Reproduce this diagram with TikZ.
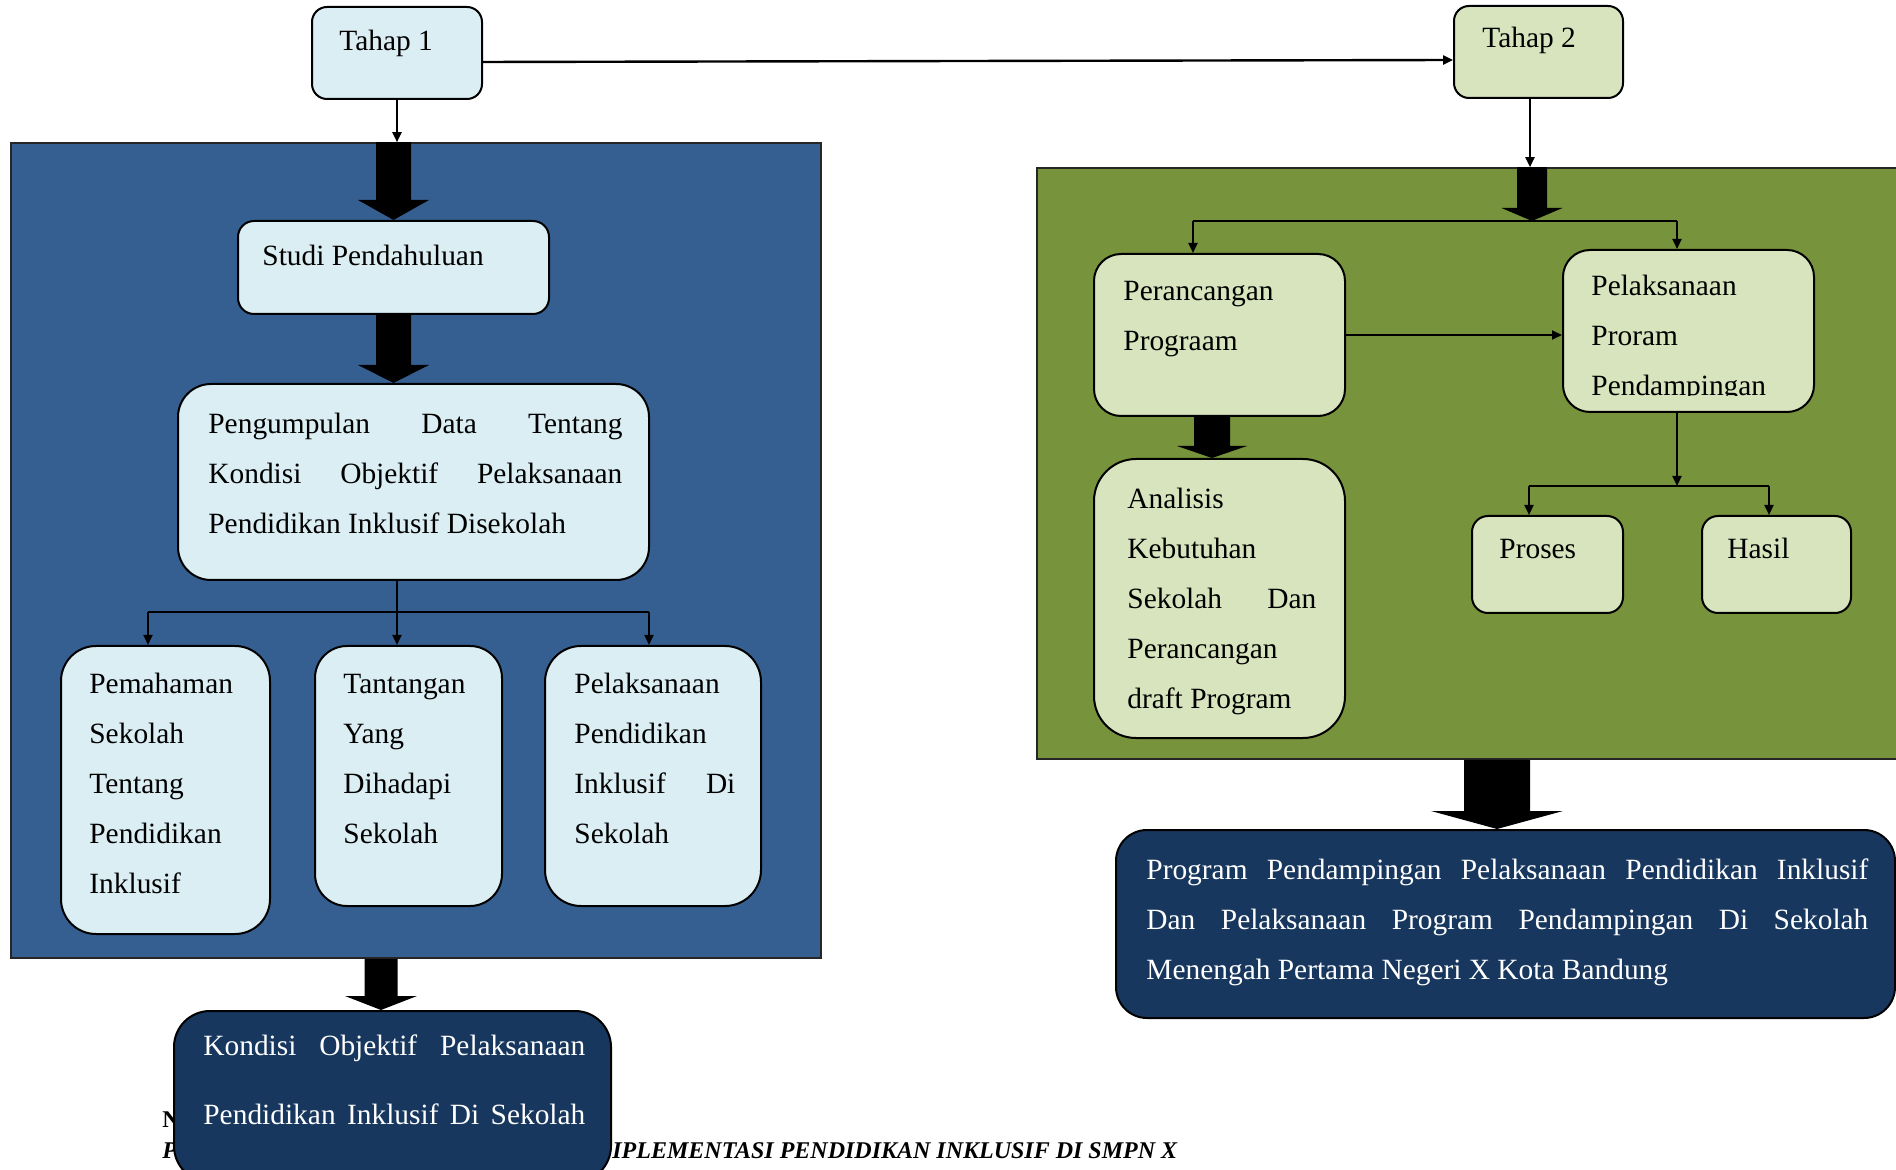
\documentclass[tikz,border=0pt]{standalone}
\usepackage{fontspec}
\setmainfont{Liberation Serif}
\usetikzlibrary{fit,calc,arrows.meta}
\definecolor{lblue}{HTML}{DBEEF3}
\definecolor{lgreen}{HTML}{D7E4BD}
\definecolor{pblue}{HTML}{365F91}
\definecolor{pgreen}{HTML}{77933C}
\definecolor{navy}{HTML}{17375E}
\newcommand{\justline}[2]{{\spaceskip=0pt\xspaceskip=0pt\makebox[#1][s]{#2}}}
\tikzset{
  panel/.style={draw=black!85, line width=0.8pt, inner sep=0pt},
  lbox/.style={draw=black, line width=1pt, fill=lblue, inner sep=0pt},
  gbox/.style={draw=black, line width=1pt, fill=lgreen, inner sep=0pt},
  dbox/.style={draw=black, line width=1pt, fill=navy, inner sep=0pt},
  txt/.style={anchor=base west, inner sep=0pt, align=justify, text width=150pt,
    yshift=-1.25pt, font=\fontsize{14.7}{25}\selectfont,
    execute at begin node={\spaceskip=0pt\xspaceskip=0pt}},
  dtxt/.style={txt, text=white},
  foot/.style={anchor=base west, inner sep=0pt, font=\fontsize{12}{14}\selectfont\bfseries},
  conn/.style={draw=black, line width=1pt, -{Triangle[length=5pt,width=4.5pt]}},
  wire/.style={draw=black, line width=1pt},
  blockarrow/.style n args={3}{fill=black, to path={
    ($(\tikztostart)+(-#1,0pt)$) -- ($(\tikztostart)+(#1,0pt)$) --
    ($(\tikztotarget)+(#1,#3)$) -- ($(\tikztotarget)+(#2,#3)$) --
    (\tikztotarget) -- ($(\tikztotarget)+(-#2,#3)$) --
    ($(\tikztotarget)+(-#1,#3)$) -- cycle}}
}
\begin{document}
\begin{tikzpicture}[x=0.5pt,y=-0.5pt]
\useasboundingbox (0,0) rectangle (1896,1170);

% panels
\node[panel, fill=pblue, fit={(11,143)(821,958)}] (panel1) {};
\node[panel, fill=pgreen, fit={(1037,168)(1905,759)}] (panel2) {};

% footer text (partly hidden)
\node[foot] (foot-n) at (162,1127) {N};
\node[foot, font=\fontsize{12}{14}\selectfont\bfseries\itshape] (foot-p) at (162,1158) {P};
\node[foot, font=\fontsize{12}{14}\selectfont\bfseries\itshape] (foot-t) at (612,1158) {IPLEMENTASI PENDIDIKAN INKLUSIF DI SMPN X};

% boxes left
\node[lbox, rounded corners=7.5pt, fit={(312,7)(482,99)}] (tahap1) {};
\node[lbox, rounded corners=8pt, fit={(238,221)(549,314)}] (studi) {};
\node[lbox, rounded corners=16.5pt, fit={(178,384)(649,580)}] (kumpul) {};
\node[lbox, rounded corners=17.5pt, fit={(61,646)(270,934)}] (paham) {};
\node[lbox, rounded corners=16pt, fit={(315,646)(502,906)}] (tantang) {};
\node[lbox, rounded corners=18pt, fit={(545,646)(761,906)}] (laksana1) {};
\node[dbox, rounded corners=18pt, fit={(174,1011)(611,1182)}] (kondisi) {};

% boxes right
\node[gbox, rounded corners=7.5pt, fit={(1454,6)(1623,98)}] (tahap2) {};
\node[gbox, rounded corners=13.5pt, fit={(1094,254)(1345,416)}] (rancang) {};
\node[gbox, rounded corners=13.5pt, fit={(1563,250)(1814,412)}] (laksana2) {};
\node[gbox, rounded corners=21pt, fit={(1094,459)(1345,738)}] (analisis) {};
\node[gbox, rounded corners=8pt, fit={(1472,516)(1623,613)}] (proses) {};
\node[gbox, rounded corners=8pt, fit={(1702,516)(1851,613)}] (hasil) {};
\node[dbox, rounded corners=15.5pt, fit={(1116,830)(1895,1018)}] (program) {};

% thin connectors
\draw[conn, line width=1.2pt] ($(tahap1.east)+(0,9)$) -- ($(tahap2.west)+(0,8)$);
\draw[conn] (tahap1.south) -- (tahap1.south |- panel1.north);
\coordinate (t2d) at (1530,0);
\draw[conn] (t2d |- tahap2.south) -- (t2d |- panel2.north);

\coordinate (j1) at (397,612);
\coordinate (b1) at (148,612);
\coordinate (b3) at (649,612);
\draw[wire] (j1 |- kumpul.south) -- (j1);
\draw[wire] (b1) -- (b3);
\draw[conn] (b1) -- (b1 |- paham.north);
\draw[conn] (j1) -- (j1 |- tantang.north);
\draw[conn] (b3) -- (b3 |- laksana1.north);

\coordinate (g1) at (1193,221);
\coordinate (g2) at (1677,221);
\draw[wire] (g1) -- (g2);
\draw[conn] (g1) -- (g1 |- rancang.north);
\draw[conn] (g2) -- (g2 |- laksana2.north);
\draw[conn] (rancang.east) -- (rancang.east -| laksana2.west);

\coordinate (g3) at (1677,486);
\coordinate (p1) at (1529,486);
\coordinate (p2) at (1769,486);
\draw[conn] (g3 |- laksana2.south) -- (g3);
\draw[wire] (p1) -- (p2);
\draw[conn] (p1) -- (p1 |- proses.north);
\draw[conn] (p2) -- (p2 |- hasil.north);

% block arrows
\coordinate (a1e) at (studi.north);
\coordinate (a1s) at (studi.north |- panel1.north);
\fill[blockarrow={8.75pt}{17.75pt}{10pt}] (a1s) to (a1e);
\coordinate (a2s) at (studi.south);
\coordinate (a2e) at (studi.south |- kumpul.north);
\fill[blockarrow={8.75pt}{17.75pt}{9pt}] (a2s) to (a2e);
\coordinate (a3) at (381,0);
\coordinate (a3s) at (a3 |- panel1.south);
\coordinate (a3e) at (a3 |- kondisi.north);
\fill[blockarrow={8.25pt}{18pt}{7pt}] (a3s) to (a3e);
\coordinate (a4) at (1532,0);
\coordinate (a4s) at (a4 |- panel2.north);
\coordinate (a4e) at (a4 |- g1);
\fill[blockarrow={7.5pt}{15.25pt}{6.5pt}] (a4s) to (a4e);
\coordinate (a5) at (1212,0);
\coordinate (a5s) at (a5 |- rancang.south);
\coordinate (a5e) at (a5 |- analisis.north);
\fill[blockarrow={9pt}{17.5pt}{6pt}] (a5s) to (a5e);
\coordinate (a6) at (1497,0);
\coordinate (a6s) at (a6 |- panel2.south);
\coordinate (a6e) at (a6 |- program.north);
\fill[blockarrow={16.5pt}{33pt}{9pt}] (a6s) to (a6e);

% texts left
\node[txt] (tahap1-t) at (339,48) {Tahap 1};
\node[txt] (studi-t) at (262,263) {Studi Pendahuluan};
\node[txt, text width=207pt] (kumpul-t) at (208,431)
  {\justline{207pt}{Pengumpulan Data Tentang}\\
   \justline{207pt}{Kondisi Objektif Pelaksanaan}\\
   Pendidikan Inklusif Disekolah};
\node[txt] (paham-t) at (89,691) {Pemahaman\\Sekolah\\Tentang\\Pendidikan\\Inklusif};
\node[txt] (tantang-t) at (343,691) {Tantangan\\Yang\\Dihadapi\\Sekolah};
\node[txt, text width=80.5pt] (laksana1-t) at (574,691)
  {Pelaksanaan\\Pendidikan\\\justline{80.5pt}{Inklusif Di}\\Sekolah};
\node[dtxt, text width=191pt, font=\fontsize{14.7}{34.5}\selectfont] (kondisi-t) at (203,1053)
  {\justline{191pt}{Kondisi Objektif Pelaksanaan}\\
   \justline{191pt}{Pendidikan Inklusif Di Sekolah}};

% texts right
\node[txt] (tahap2-t) at (1482,45) {Tahap 2};
\node[txt] (rancang-t) at (1123,298) {Perancangan\\Prograam};
\begin{scope}
  \clip (1563,250) rectangle (1814,396);
  \node[txt] (laksana2-t) at (1591,293) {Pelaksanaan\\Proram\\Pendampingan};
\end{scope}
\node[txt, text width=94.5pt] (analisis-t) at (1127,506)
  {Analisis\\Kebutuhan\\\justline{94.5pt}{Sekolah Dan}\\Perancangan\\draft Program};
\node[txt] (proses-t) at (1499,556) {Proses};
\node[txt] (hasil-t) at (1727,556) {Hasil};
\node[dtxt, text width=361pt] (program-t) at (1146,877)
  {\justline{361pt}{Program Pendampingan Pelaksanaan Pendidikan Inklusif}\\
   \justline{361pt}{Dan Pelaksanaan Program Pendampingan Di Sekolah}\\
   Menengah Pertama Negeri X Kota Bandung};
\end{tikzpicture}
\end{document}
